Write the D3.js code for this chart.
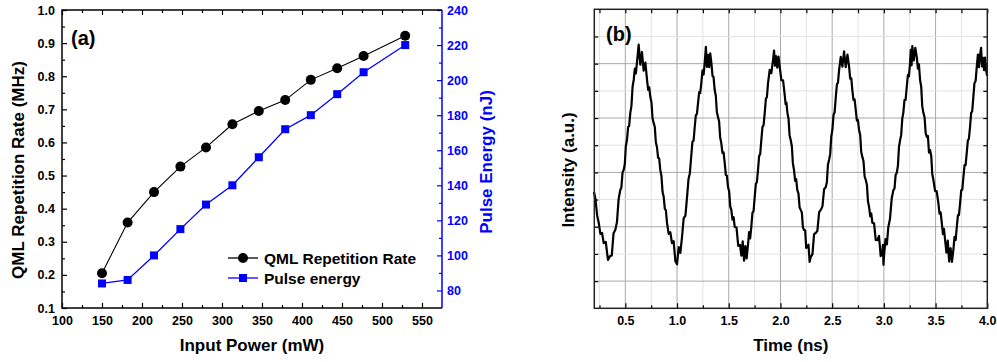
<!DOCTYPE html>
<html><head><meta charset="utf-8">
<script src="https://cdn.jsdelivr.net/npm/d3@7"></script>
<style>
body{margin:0;background:#fff}
svg{display:block}
text{font-family:"Liberation Sans",Arial,sans-serif;font-weight:bold}
</style>
</head><body>
<svg id="c" width="997" height="362"></svg>
<script>
// ---------- Panel (a) data ----------
const inputPower = [150, 182, 215, 248, 280, 313, 346, 379, 411, 444, 477, 529];
const repRate = [0.205, 0.358, 0.450, 0.527, 0.585, 0.655, 0.695, 0.728, 0.789, 0.824, 0.861, 0.922];
const pulseEnergy = [84, 86, 100, 115, 129, 140, 156, 172, 180, 192, 204.5, 220];
const powerTicks = [100, 150, 200, 250, 300, 350, 400, 450, 500, 550];
const rateTicks = [0.1, 0.2, 0.3, 0.4, 0.5, 0.6, 0.7, 0.8, 0.9, 1.0];
const energyTicks = [80, 100, 120, 140, 160, 180, 200, 220, 240];
const legendLabels = ["QML Repetition Rate", "Pulse energy"];

// ---------- Panel (b) data ----------
const timeTicks = [0.5, 1.0, 1.5, 2.0, 2.5, 3.0, 3.5, 4.0];
const waveform = [
[0.197,4.28],[0.212,4.00],[0.228,3.40],[0.243,3.14],[0.259,2.74],[0.275,2.77],
[0.291,2.40],[0.311,2.44],[0.332,1.78],[0.352,1.92],[0.369,1.94],[0.386,2.76],
[0.403,2.88],[0.419,3.17],[0.435,4.01],[0.451,4.35],[0.462,4.45],[0.473,4.99],
[0.484,5.09],[0.495,5.31],[0.505,5.97],[0.516,6.19],[0.527,6.67],[0.537,6.71],
[0.548,7.19],[0.559,7.44],[0.570,8.15],[0.581,8.40],[0.592,8.82],[0.602,8.64],
[0.613,9.06],[0.629,9.70],[0.645,8.96],[0.661,9.43],[0.677,8.74],[0.694,9.04],
[0.710,8.40],[0.721,8.04],[0.731,8.13],[0.742,7.77],[0.753,7.57],[0.763,6.99],
[0.774,6.82],[0.785,6.67],[0.795,6.11],[0.806,5.93],[0.817,5.53],[0.827,5.52],
[0.838,5.09],[0.849,4.88],[0.860,4.28],[0.871,4.10],[0.882,3.66],[0.892,3.61],
[0.903,3.14],[0.919,2.74],[0.935,2.80],[0.951,2.40],[0.967,2.47],[0.984,1.73],
[1.000,1.62],[1.016,2.25],[1.032,2.04],[1.048,2.62],[1.064,3.31],[1.081,3.41],
[1.097,4.10],[1.111,4.76],[1.124,4.97],[1.138,5.63],[1.149,6.13],[1.160,6.17],
[1.171,6.67],[1.182,7.11],[1.192,7.14],[1.203,7.55],[1.214,7.95],[1.224,7.92],
[1.235,8.29],[1.246,8.75],[1.257,8.60],[1.268,9.06],[1.279,9.62],[1.289,8.88],
[1.300,9.32],[1.311,8.87],[1.321,9.38],[1.332,9.03],[1.343,8.55],[1.353,8.51],
[1.364,8.03],[1.375,7.82],[1.385,7.22],[1.396,7.04],[1.407,6.87],[1.417,6.28],
[1.428,6.08],[1.439,5.72],[1.450,5.74],[1.461,5.35],[1.472,4.90],[1.482,4.88],
[1.493,4.46],[1.504,4.30],[1.514,3.75],[1.525,3.62],[1.536,3.26],[1.547,3.35],
[1.558,2.99],[1.575,2.97],[1.592,2.30],[1.609,2.33],[1.622,1.94],[1.635,2.46],
[1.648,1.75],[1.661,2.29],[1.673,1.84],[1.686,2.33],[1.697,2.80],[1.707,2.57],
[1.718,2.99],[1.729,3.51],[1.740,3.58],[1.751,4.10],[1.762,4.58],[1.772,4.64],
[1.783,5.09],[1.794,5.61],[1.804,5.67],[1.815,6.19],[1.826,6.67],[1.837,6.74],
[1.848,7.19],[1.859,7.71],[1.869,7.77],[1.880,8.29],[1.896,8.77],[1.912,8.65],
[1.928,9.13],[1.938,9.48],[1.947,8.93],[1.957,9.28],[1.969,8.85],[1.981,9.26],
[1.993,8.88],[2.009,8.39],[2.025,8.39],[2.041,7.85],[2.050,7.51],[2.058,7.56],
[2.067,7.19],[2.078,6.98],[2.088,6.37],[2.099,6.19],[2.110,5.97],[2.120,5.34],
[2.131,5.09],[2.142,4.69],[2.152,4.75],[2.163,4.35],[2.174,4.23],[2.185,3.71],
[2.196,3.62],[2.207,3.52],[2.217,2.98],[2.228,2.88],[2.239,2.87],[2.249,2.22],
[2.260,2.26],[2.271,2.34],[2.282,1.71],[2.293,1.89],[2.309,1.98],[2.325,2.73],
[2.341,2.77],[2.357,2.85],[2.374,3.54],[2.390,3.62],[2.406,3.75],[2.422,4.38],
[2.438,4.46],[2.449,4.64],[2.459,5.28],[2.470,5.46],[2.481,5.68],[2.491,6.31],
[2.502,6.56],[2.513,7.11],[2.524,7.22],[2.535,7.77],[2.546,8.25],[2.556,8.29],
[2.567,8.77],[2.583,9.25],[2.599,8.89],[2.615,9.45],[2.631,8.87],[2.648,9.33],
[2.664,8.88],[2.674,8.45],[2.685,8.46],[2.695,8.03],[2.706,7.67],[2.717,7.69],
[2.728,7.30],[2.739,6.90],[2.749,6.93],[2.760,6.56],[2.771,6.38],[2.781,5.75],
[2.792,5.57],[2.803,5.41],[2.814,4.85],[2.825,4.72],[2.836,4.54],[2.846,3.94],
[2.857,3.73],[2.868,3.38],[2.878,3.49],[2.889,3.14],[2.905,3.13],[2.921,2.52],
[2.937,2.51],[2.953,2.66],[2.969,1.92],[2.985,2.07],[2.991,2.33],[2.996,1.60],
[3.002,1.96],[3.016,2.55],[3.029,2.35],[3.043,2.99],[3.059,3.29],[3.076,4.05],
[3.092,4.35],[3.103,4.41],[3.114,4.92],[3.125,4.98],[3.136,5.26],[3.146,5.94],
[3.157,6.19],[3.167,6.37],[3.178,6.98],[3.188,7.19],[3.199,7.66],[3.210,7.67],
[3.221,8.14],[3.232,8.58],[3.242,8.53],[3.253,9.02],[3.260,9.51],[3.268,8.94],
[3.275,9.65],[3.289,9.12],[3.304,9.58],[3.318,9.25],[3.329,8.82],[3.339,8.98],
[3.350,8.40],[3.361,8.15],[3.371,7.44],[3.382,7.19],[3.393,7.04],[3.404,6.45],
[3.415,6.30],[3.426,6.34],[3.436,5.73],[3.447,5.82],[3.458,5.60],[3.468,4.94],
[3.479,4.72],[3.495,4.32],[3.511,4.30],[3.527,3.87],[3.538,3.48],[3.549,3.53],
[3.560,3.14],[3.571,2.73],[3.581,2.92],[3.592,2.51],[3.605,2.05],[3.618,2.49],
[3.631,1.72],[3.645,2.21],[3.658,1.71],[3.672,2.15],[3.683,2.63],[3.694,2.51],
[3.705,2.99],[3.716,3.43],[3.726,3.43],[3.737,3.87],[3.748,4.34],[3.758,4.36],
[3.769,4.83],[3.780,5.27],[3.790,5.27],[3.801,5.71],[3.812,6.18],[3.822,6.23],
[3.833,6.67],[3.844,7.19],[3.854,7.25],[3.865,7.77],[3.876,8.29],[3.887,8.36],
[3.898,8.88],[3.909,9.33],[3.919,8.87],[3.930,9.32],[3.940,9.58],[3.949,8.90],
[3.959,9.21],[3.969,8.76],[3.978,9.22],[3.988,8.77],[3.998,8.55]
];

const svg = d3.select("#c");
const BLUE = "#0000ff";
const TICKFS = "12.5px", TITLEFS = "17px";

// ================= Panel (a) =================
const A = {l:62, r:442, t:10, b:308};
const xA = d3.scaleLinear().domain([100, 575]).range([A.l, A.r]);
const yL = d3.scaleLinear().domain([0.1, 1.0]).range([A.b, A.t]);
const yR = d3.scaleLinear().domain([70, 240]).range([A.b, A.t]);

const gA = svg.append("g");

function styleAxis(g, color){
  g.select(".domain").remove();
  g.selectAll(".tick line").attr("stroke", color).attr("stroke-width", 1.2);
  g.selectAll(".tick text").attr("fill", color).style("font-size",TICKFS)
    .style("font-family",'"Liberation Sans",Arial,sans-serif').style("font-weight","bold");
}

// bottom
gA.append("g").attr("transform",`translate(0,${A.b})`)
  .call(d3.axisBottom(xA).tickValues(powerTicks).tickSize(-5).tickPadding(8).tickFormat(d3.format("d")))
  .call(g=>styleAxis(g,"#000"));
gA.append("g").attr("transform",`translate(0,${A.b})`)
  .call(d3.axisBottom(xA).tickValues(powerTicks.slice(0,-1).map(d=>d+25)).tickSize(-3).tickFormat(""))
  .call(g=>styleAxis(g,"#000"));
// top
gA.append("g").attr("transform",`translate(0,${A.t})`)
  .call(d3.axisTop(xA).tickValues(powerTicks).tickSize(-5).tickFormat(""))
  .call(g=>styleAxis(g,"#000"));
gA.append("g").attr("transform",`translate(0,${A.t})`)
  .call(d3.axisTop(xA).tickValues(powerTicks.slice(0,-1).map(d=>d+25)).tickSize(-3).tickFormat(""))
  .call(g=>styleAxis(g,"#000"));
// left
gA.append("g").attr("transform",`translate(${A.l},0)`)
  .call(d3.axisLeft(yL).tickValues(rateTicks).tickSize(-5).tickPadding(7).tickFormat(d3.format(".1f")))
  .call(g=>styleAxis(g,"#000"));
gA.append("g").attr("transform",`translate(${A.l},0)`)
  .call(d3.axisLeft(yL).tickValues(rateTicks.slice(0,-1).map(d=>d+0.05)).tickSize(-3).tickFormat(""))
  .call(g=>styleAxis(g,"#000"));
// right
gA.append("g").attr("transform",`translate(${A.r},0)`)
  .call(d3.axisRight(yR).tickValues(energyTicks).tickSize(-5).tickPadding(5).tickFormat(d3.format("d")))
  .call(g=>styleAxis(g,BLUE));
gA.append("g").attr("transform",`translate(${A.r},0)`)
  .call(d3.axisRight(yR).tickValues(energyTicks.slice(0,-1).map(d=>d+10)).tickSize(-3).tickFormat(""))
  .call(g=>styleAxis(g,BLUE));

// frame
gA.append("path").attr("d",`M${A.r},${A.t}H${A.l}V${A.b}H${A.r}`).attr("fill","none").attr("stroke","#000").attr("stroke-width",1.5);
gA.append("line").attr("x1",A.r).attr("x2",A.r).attr("y1",A.t).attr("y2",A.b).attr("stroke",BLUE).attr("stroke-width",1.5);

// series
const ptsRate = inputPower.map((p,i)=>[p, repRate[i]]);
const ptsEnergy = inputPower.map((p,i)=>[p, pulseEnergy[i]]);
gA.append("path").datum(ptsEnergy)
  .attr("d", d3.line().x(d=>xA(d[0])).y(d=>yR(d[1])))
  .attr("fill","none").attr("stroke",BLUE).attr("stroke-width",1.3);
gA.append("path").datum(ptsRate)
  .attr("d", d3.line().x(d=>xA(d[0])).y(d=>yL(d[1])))
  .attr("fill","none").attr("stroke","#000").attr("stroke-width",1.1);
gA.selectAll("rect.sq").data(ptsEnergy).join("rect").attr("class","sq")
  .attr("x",d=>xA(d[0])-4).attr("y",d=>yR(d[1])-4).attr("width",8).attr("height",8).attr("fill",BLUE);
gA.selectAll("circle.ci").data(ptsRate).join("circle").attr("class","ci")
  .attr("cx",d=>xA(d[0])).attr("cy",d=>yL(d[1])).attr("r",5).attr("fill","#000");

// legend
const leg = gA.append("g");
[[legendLabels[0],"#000","c",258],[legendLabels[1],BLUE,"s",278]].forEach(([lab,col,sh,y])=>{
  leg.append("line").attr("x1",228).attr("x2",258).attr("y1",y).attr("y2",y).attr("stroke",col).attr("stroke-width",1.3);
  if(sh==="c") leg.append("circle").attr("cx",243).attr("cy",y).attr("r",5).attr("fill",col);
  else leg.append("rect").attr("x",239).attr("y",y-4).attr("width",8).attr("height",8).attr("fill",col);
  leg.append("text").attr("x",264).attr("y",y).attr("dy","0.36em").style("font-size","15.5px").text(lab);
});

// titles
gA.append("text").attr("x",(A.l+A.r)/2).attr("y",351).attr("text-anchor","middle").style("font-size",TITLEFS).text("Input Power (mW)");
gA.append("text").attr("transform",`translate(18,170) rotate(-90)`).attr("text-anchor","middle").attr("dy","0.36em")
  .style("font-size",TITLEFS).text("QML Repetition Rate (MHz)");
gA.append("text").attr("transform",`translate(486,162) rotate(-90)`).attr("text-anchor","middle").attr("dy","0.36em")
  .attr("fill",BLUE).style("font-size",TITLEFS).text("Pulse Energy (nJ)");
gA.append("text").attr("x",71).attr("y",45).style("font-size","20px").text("(a)");

// ================= Panel (b) =================
const B = {l:594.3, r:987.3, t:9.3, b:308.3};
const xB = d3.scaleLinear().domain([0.2, 4.0]).range([B.l, B.r]);
const yB = d3.scaleLinear().domain([0, 11]).range([B.b, B.t]);
const gB = svg.append("g");

const minorT = timeTicks.map(d=>d-0.25).filter(d=>d>0.2);
const gridY = d3.range(1, 11);
// grid
gB.selectAll("line.vminor").data(minorT).join("line").attr("class","vminor")
  .attr("x1",d=>xB(d)).attr("x2",d=>xB(d)).attr("y1",B.t).attr("y2",B.b).attr("stroke","#e3e3e3").attr("stroke-width",1);
gB.selectAll("line.vmajor").data(timeTicks.filter(d=>d<4)).join("line").attr("class","vmajor")
  .attr("x1",d=>xB(d)).attr("x2",d=>xB(d)).attr("y1",B.t).attr("y2",B.b).attr("stroke","#a8a8a8").attr("stroke-width",1);
gB.selectAll("line.hgrid").data(gridY).join("line").attr("class","hgrid")
  .attr("x1",B.l).attr("x2",B.r).attr("y1",d=>yB(d)).attr("y2",d=>yB(d))
  .attr("stroke",d=>d%2===1?"#a8a8a8":"#e3e3e3").attr("stroke-width",1);

// waveform
gB.append("path").datum(waveform)
  .attr("d", d3.line().x(d=>xB(d[0])).y(d=>yB(d[1])))
  .attr("fill","none").attr("stroke","#000").attr("stroke-width",2.2).attr("stroke-linejoin","round");

// axes
gB.append("g").attr("transform",`translate(0,${B.b})`)
  .call(d3.axisBottom(xB).tickValues(timeTicks).tickSize(-5).tickPadding(8).tickFormat(d3.format(".1f")))
  .call(g=>styleAxis(g,"#000"));
gB.append("g").attr("transform",`translate(0,${B.b})`)
  .call(d3.axisBottom(xB).tickValues(minorT).tickSize(-3).tickFormat(""))
  .call(g=>styleAxis(g,"#000"));
gB.append("g").attr("transform",`translate(0,${B.t})`)
  .call(d3.axisTop(xB).tickValues(timeTicks.concat(minorT)).tickSize(-4).tickFormat(""))
  .call(g=>styleAxis(g,"#000"));
gB.append("g").attr("transform",`translate(${B.l},0)`)
  .call(d3.axisLeft(yB).tickValues(gridY).tickSize(-4).tickFormat(""))
  .call(g=>styleAxis(g,"#000"));
gB.append("g").attr("transform",`translate(${B.r},0)`)
  .call(d3.axisRight(yB).tickValues(gridY).tickSize(-4).tickFormat(""))
  .call(g=>styleAxis(g,"#000"));
gB.append("rect").attr("x",B.l).attr("y",B.t).attr("width",B.r-B.l).attr("height",B.b-B.t)
  .attr("fill","none").attr("stroke","#222").attr("stroke-width",1.5);

gB.append("text").attr("x",(B.l+B.r)/2).attr("y",351).attr("text-anchor","middle").style("font-size",TITLEFS).text("Time (ns)");
gB.append("text").attr("transform",`translate(568,170) rotate(-90)`).attr("text-anchor","middle").attr("dy","0.36em")
  .style("font-size",TITLEFS).text("Intensity (a.u.)");
gB.append("text").attr("x",606).attr("y",41).style("font-size","20px").text("(b)");
</script>
</body></html>
